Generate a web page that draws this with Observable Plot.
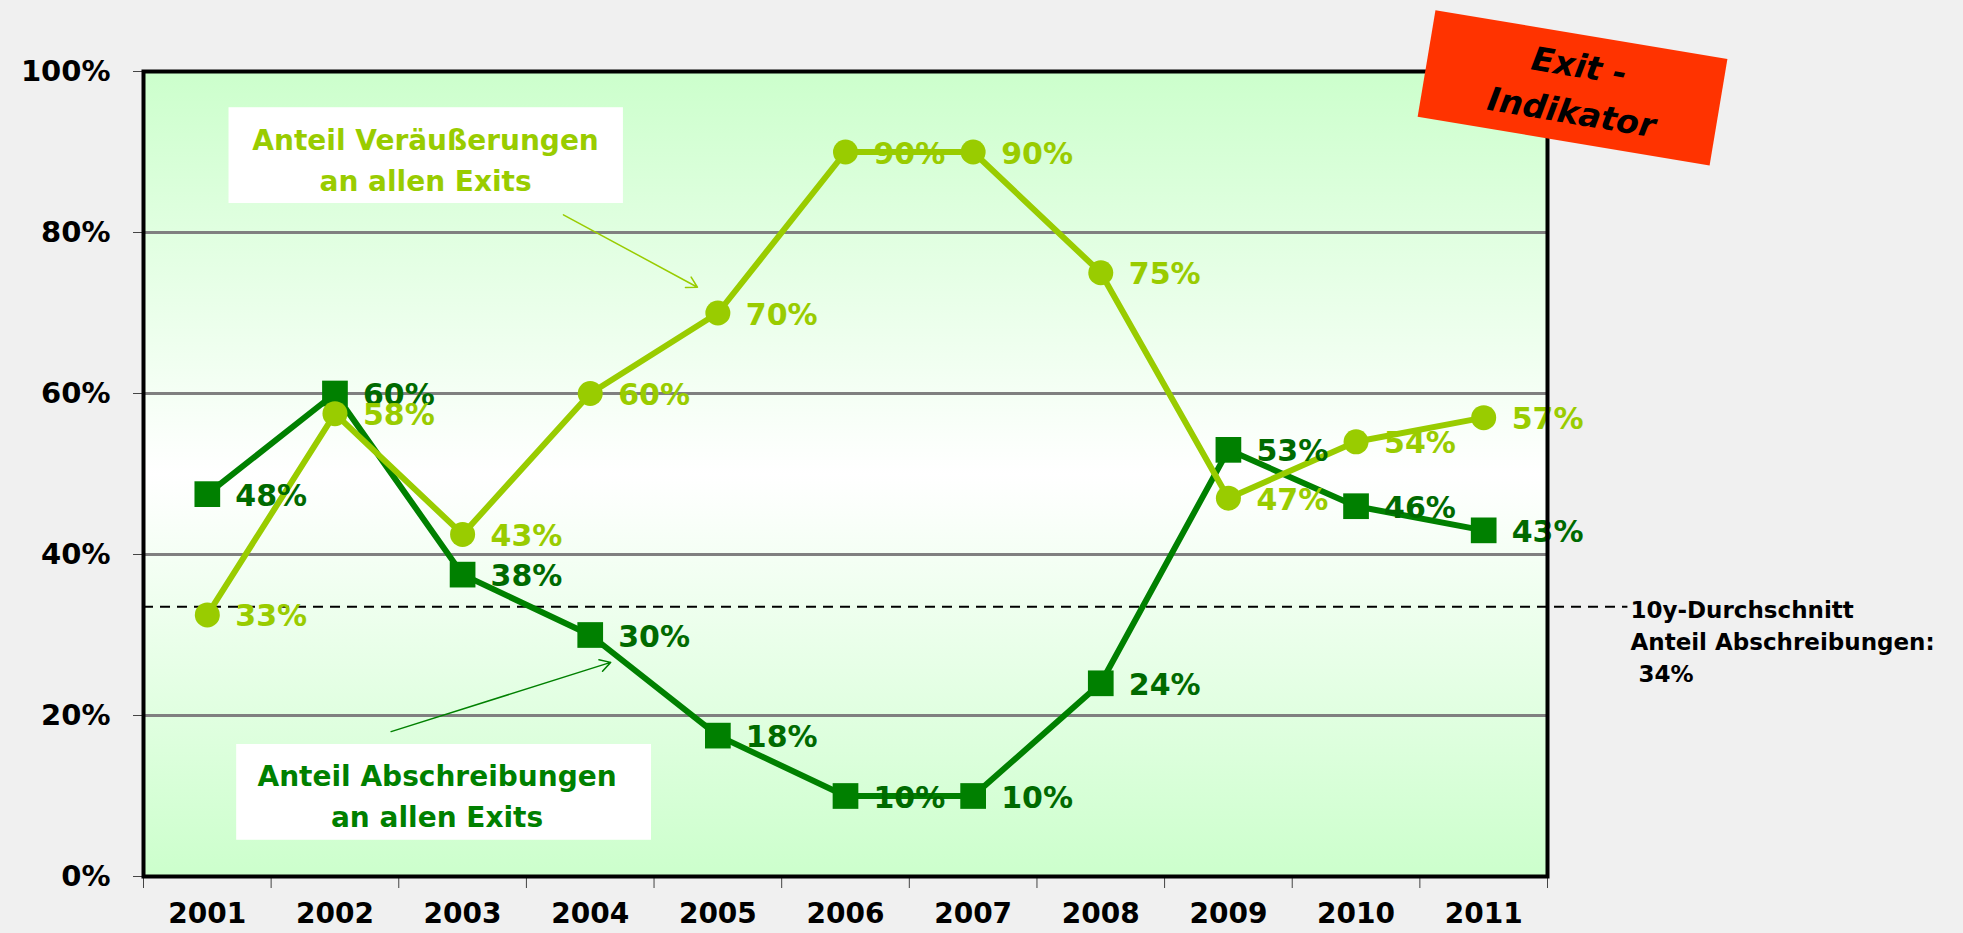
<!DOCTYPE html>
<html>
<head>
<meta charset="utf-8">
<script src="https://cdn.jsdelivr.net/npm/d3@7"></script>
<script src="https://cdn.jsdelivr.net/npm/@observablehq/plot@0.6"></script>
<style>
  html, body { margin: 0; padding: 0; background: #f0f0f0; }
  #chart svg { display: block; }
</style>
</head>
<body>
<div id="chart"></div>
<script>
// ---- data ----
const years = [2001, 2002, 2003, 2004, 2005, 2006, 2007, 2008, 2009, 2010, 2011];
const veraeusserungen = [32.5, 57.5, 42.5, 60, 70, 90, 90, 75, 47, 54, 57];
const abschreibungen = [47.5, 60, 37.5, 30, 17.5, 10, 10, 24, 53, 46, 43];
const yTicks = [0, 20, 40, 60, 80, 100];
const gridValues = [20, 40, 60, 80];
const avgValue = 33.5;
const avgLabel = "10y-Durchschnitt\nAnteil Abschreibungen:\n 34%";
const legendVer = "Anteil Veräußerungen\nan allen Exits";
const legendAbs = "Anteil Abschreibungen\nan allen Exits";
const badgeLines = ["Exit -", "Indikator"];

const colVer = "#99cc00";
const colAbs = "#008000";
const colAbsText = "#006a00";

const verData = years.map((y, i) => ({year: y, value: veraeusserungen[i]}));
const absData = years.map((y, i) => ({year: y, value: abschreibungen[i]}));
const boundaries = d3.range(years[0] - 0.5, years[years.length - 1] + 1, 1);
const fmt = v => Math.round(v) + "%";

const font = "DejaVu Sans, Verdana, sans-serif";

const chart = Plot.plot({
  width: 1963,
  height: 933,
  marginLeft: 143,
  marginRight: 416,
  marginTop: 71,
  marginBottom: 57,
  style: {fontFamily: font, fontWeight: "bold", background: "#f0f0f0", color: "black", overflow: "visible"},
  x: {domain: [years[0] - 0.5, years[years.length - 1] + 0.5]},
  y: {domain: [0, 100]},
  marks: [
    Plot.frame({fill: "url(#bgGrad)", stroke: "none"}),
    Plot.ruleY(gridValues, {stroke: "#808080", strokeWidth: 3}),
    // average dashed line (extends past the frame to the label)
    Plot.ruleY([avgValue], {x1: years[0] - 0.5, x2: 2012.13, stroke: "black", strokeWidth: 2, strokeDasharray: "10,7"}),
    Plot.text([avgLabel], {x: 2012.15, y: avgValue, textAnchor: "start", lineAnchor: "top", dy: -12, lineHeight: 1.4, fontSize: 23, fontWeight: "bold", fill: "black"}),
    // legend boxes
    Plot.rect([0], {x1: 2001.17, x2: 2004.26, y1: 83.6, y2: 95.5, fill: "white"}),
    Plot.text([legendVer], {x: 2002.71, y: 89.3, fontSize: 28, lineHeight: 1.45, fill: colVer, fontWeight: "bold"}),
    Plot.arrow([0], {x1: 2003.79, y1: 82.2, x2: 2004.84, y2: 73.2, stroke: colVer, strokeWidth: 1.5, headLength: 12, bend: 0}),
    Plot.rect([0], {x1: 2001.23, x2: 2004.48, y1: 4.5, y2: 16.4, fill: "white"}),
    Plot.text([legendAbs], {x: 2002.80, y: 10.3, fontSize: 28, lineHeight: 1.45, fill: colAbs, fontWeight: "bold"}),
    Plot.arrow([0], {x1: 2002.44, y1: 18.0, x2: 2004.16, y2: 26.6, stroke: colAbs, strokeWidth: 1.5, headLength: 12, bend: 0}),
    // series lines
    Plot.line(absData, {x: "year", y: "value", stroke: colAbs, strokeWidth: 6}),
    Plot.line(verData, {x: "year", y: "value", stroke: colVer, strokeWidth: 6}),
    Plot.dot(absData, {x: "year", y: "value", symbol: "square", r: 14.5, fill: colAbs, stroke: "none"}),
    Plot.dot(verData, {x: "year", y: "value", symbol: "circle", r: 12.5, fill: colVer, stroke: "none"}),
    Plot.text(absData, {x: "year", y: "value", text: d => fmt(d.value), dx: 28, dy: 2, textAnchor: "start", fontSize: 30, fill: colAbsText, fontWeight: "bold"}),
    Plot.text(verData, {x: "year", y: "value", text: d => fmt(d.value), dx: 28, dy: 2, textAnchor: "start", fontSize: 30, fill: colVer, fontWeight: "bold"}),
    // axes
    Plot.axisY({ticks: yTicks, tickFormat: d => d + "%", tickSize: 10, tickPadding: 23, fontSize: 29, stroke: "#444", fill: "black", label: null}),
    Plot.axisX({ticks: boundaries, tickFormat: () => "", tickSize: 12, stroke: "#444", label: null}),
    Plot.axisX({ticks: years, tickFormat: d => String(d), tickSize: 0, tickPadding: 27, fontSize: 28, fill: "black", label: null}),
    Plot.frame({stroke: "black", strokeWidth: 4})
  ]
});

// gradient background definition
const svg = d3.select(chart);
const defs = svg.insert("defs", ":first-child");
const grad = defs.append("linearGradient").attr("id", "bgGrad").attr("x1", 0).attr("y1", 0).attr("x2", 0).attr("y2", 1);
grad.append("stop").attr("offset", "0%").attr("stop-color", "#ccffcc");
grad.append("stop").attr("offset", "50%").attr("stop-color", "#ffffff");
grad.append("stop").attr("offset", "100%").attr("stop-color", "#ccffcc");

// "Exit - Indikator" badge, positioned relative to the plot's scales
const sx = chart.scale("x"), sy = chart.scale("y");
const cx = sx.apply(2011.70), cy = sy.apply(97.9);
const badge = svg.append("g").attr("transform", `translate(${cx},${cy}) rotate(9.5)`);
badge.append("rect").attr("x", -148).attr("y", -54).attr("width", 296).attr("height", 108).attr("fill", "#ff3300");
badge.selectAll("text").data(badgeLines).join("text")
  .attr("x", 3)
  .attr("y", (d, i) => i === 0 ? -23 : 24)
  .attr("dy", "0.35em")
  .attr("text-anchor", "middle")
  .attr("font-family", font)
  .attr("font-weight", "bold")
  .attr("font-style", "italic")
  .attr("font-size", 33)
  .attr("fill", "black")
  .text(d => d);

document.getElementById("chart").appendChild(chart);
</script>
</body>
</html>
